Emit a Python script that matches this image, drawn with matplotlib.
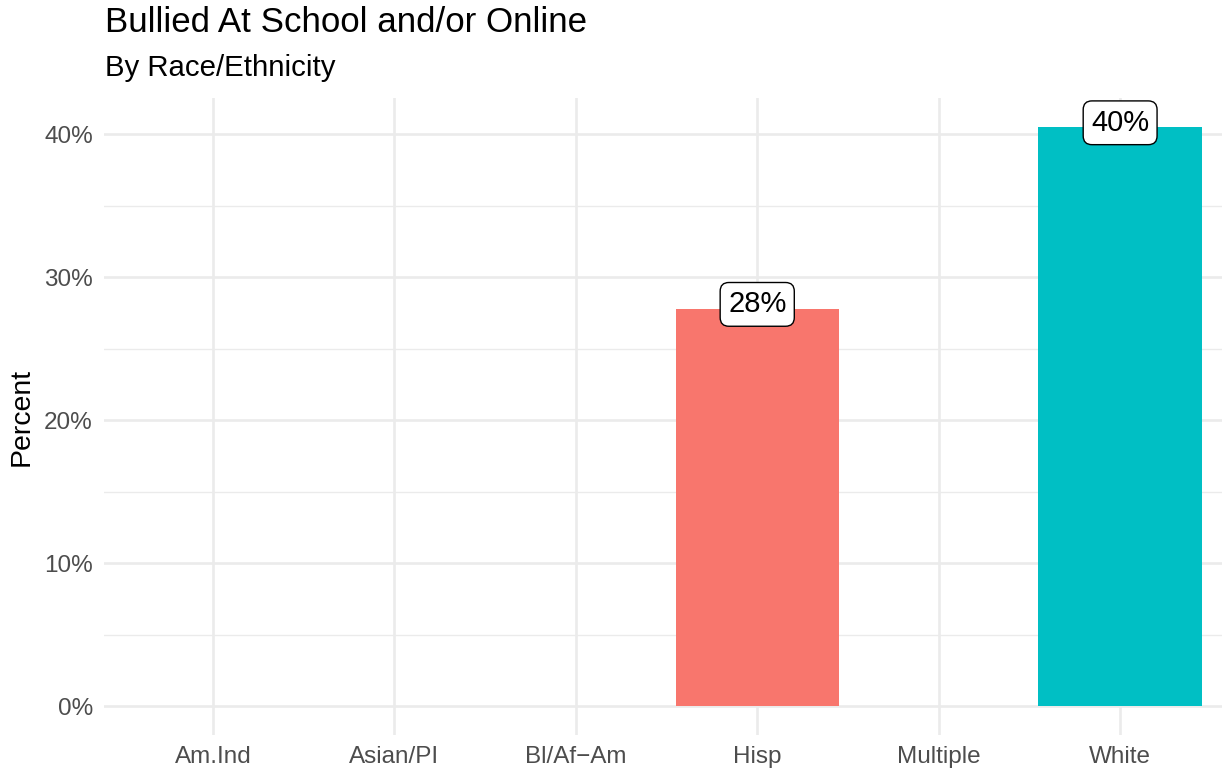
import matplotlib
matplotlib.use("Agg")
import matplotlib.pyplot as plt
from matplotlib.ticker import FuncFormatter, MultipleLocator
import numpy as np

# data
groups = ["Am.Ind", "Asian/PI", "Bl/Af\u2212Am", "Hisp", "Multiple", "White"]
percent = [np.nan, np.nan, np.nan, 27.8, np.nan, 40.5]
labels = ["", "", "", "28%", "", "40%"]
colors = ["#F8766D", "#F8766D", "#F8766D", "#F8766D", "#00BFC4", "#00BFC4"]

plt.rcParams["font.family"] = ["Liberation Sans", "DejaVu Sans"]

W, H = 1222, 774
fig = plt.figure(figsize=(W / 100, H / 100), dpi=100)
# panel spans x 104..1229 px, y 98..735 px
ax = fig.add_axes([104 / W, 1 - 735 / H, (1229 - 104) / W, (735 - 98) / H])

x = np.arange(1, len(groups) + 1)
ymax = np.nanmax(percent)
ax.set_xlim(0.4, len(groups) + 0.6)
ax.set_ylim(-0.05 * ymax, 1.05 * ymax)

ax.yaxis.set_major_locator(MultipleLocator(10))
ax.yaxis.set_minor_locator(MultipleLocator(5))
ax.yaxis.set_major_formatter(FuncFormatter(lambda v, p: f"{v:.0f}%"))
ax.set_xticks(x)
ax.set_xticklabels(groups)

ax.grid(which="major", axis="both", color="#EBEBEB", linewidth=1.9, zorder=0)
ax.grid(which="minor", axis="y", color="#EBEBEB", linewidth=0.95, zorder=0)
ax.set_axisbelow(True)
for s in ax.spines.values():
    s.set_visible(False)
ax.tick_params(axis="both", which="both", length=0, labelsize=17.5, labelcolor="#4D4D4D")
ax.tick_params(axis="x", pad=8)
ax.tick_params(axis="y", pad=8)

ax.bar(x, percent, width=0.9, color=colors, zorder=2)

for xi, v, lab in zip(x, percent, labels):
    if lab:
        ax.annotate(lab, (xi, v), xytext=(0, 3), textcoords="offset points",
                    ha="center", va="center", fontsize=21, color="black", zorder=3,
                    bbox=dict(boxstyle="round,pad=0.27,rounding_size=0.3",
                              fc="white", ec="black", lw=1.0))

ax.set_ylabel("Percent", fontsize=20.5, color="black", va="center")
ax.yaxis.set_label_coords(-(104 - 22) / (1229 - 104), 0.5)

fig.text(105 / W, 1 - 32 / H, "Bullied At School and/or Online", fontsize=25.1,
         ha="left", va="baseline", color="black")
fig.text(105 / W, 1 - 76 / H, "By Race/Ethnicity", fontsize=21.2,
         ha="left", va="baseline", color="black")

fig.savefig("out.png", dpi=100)
